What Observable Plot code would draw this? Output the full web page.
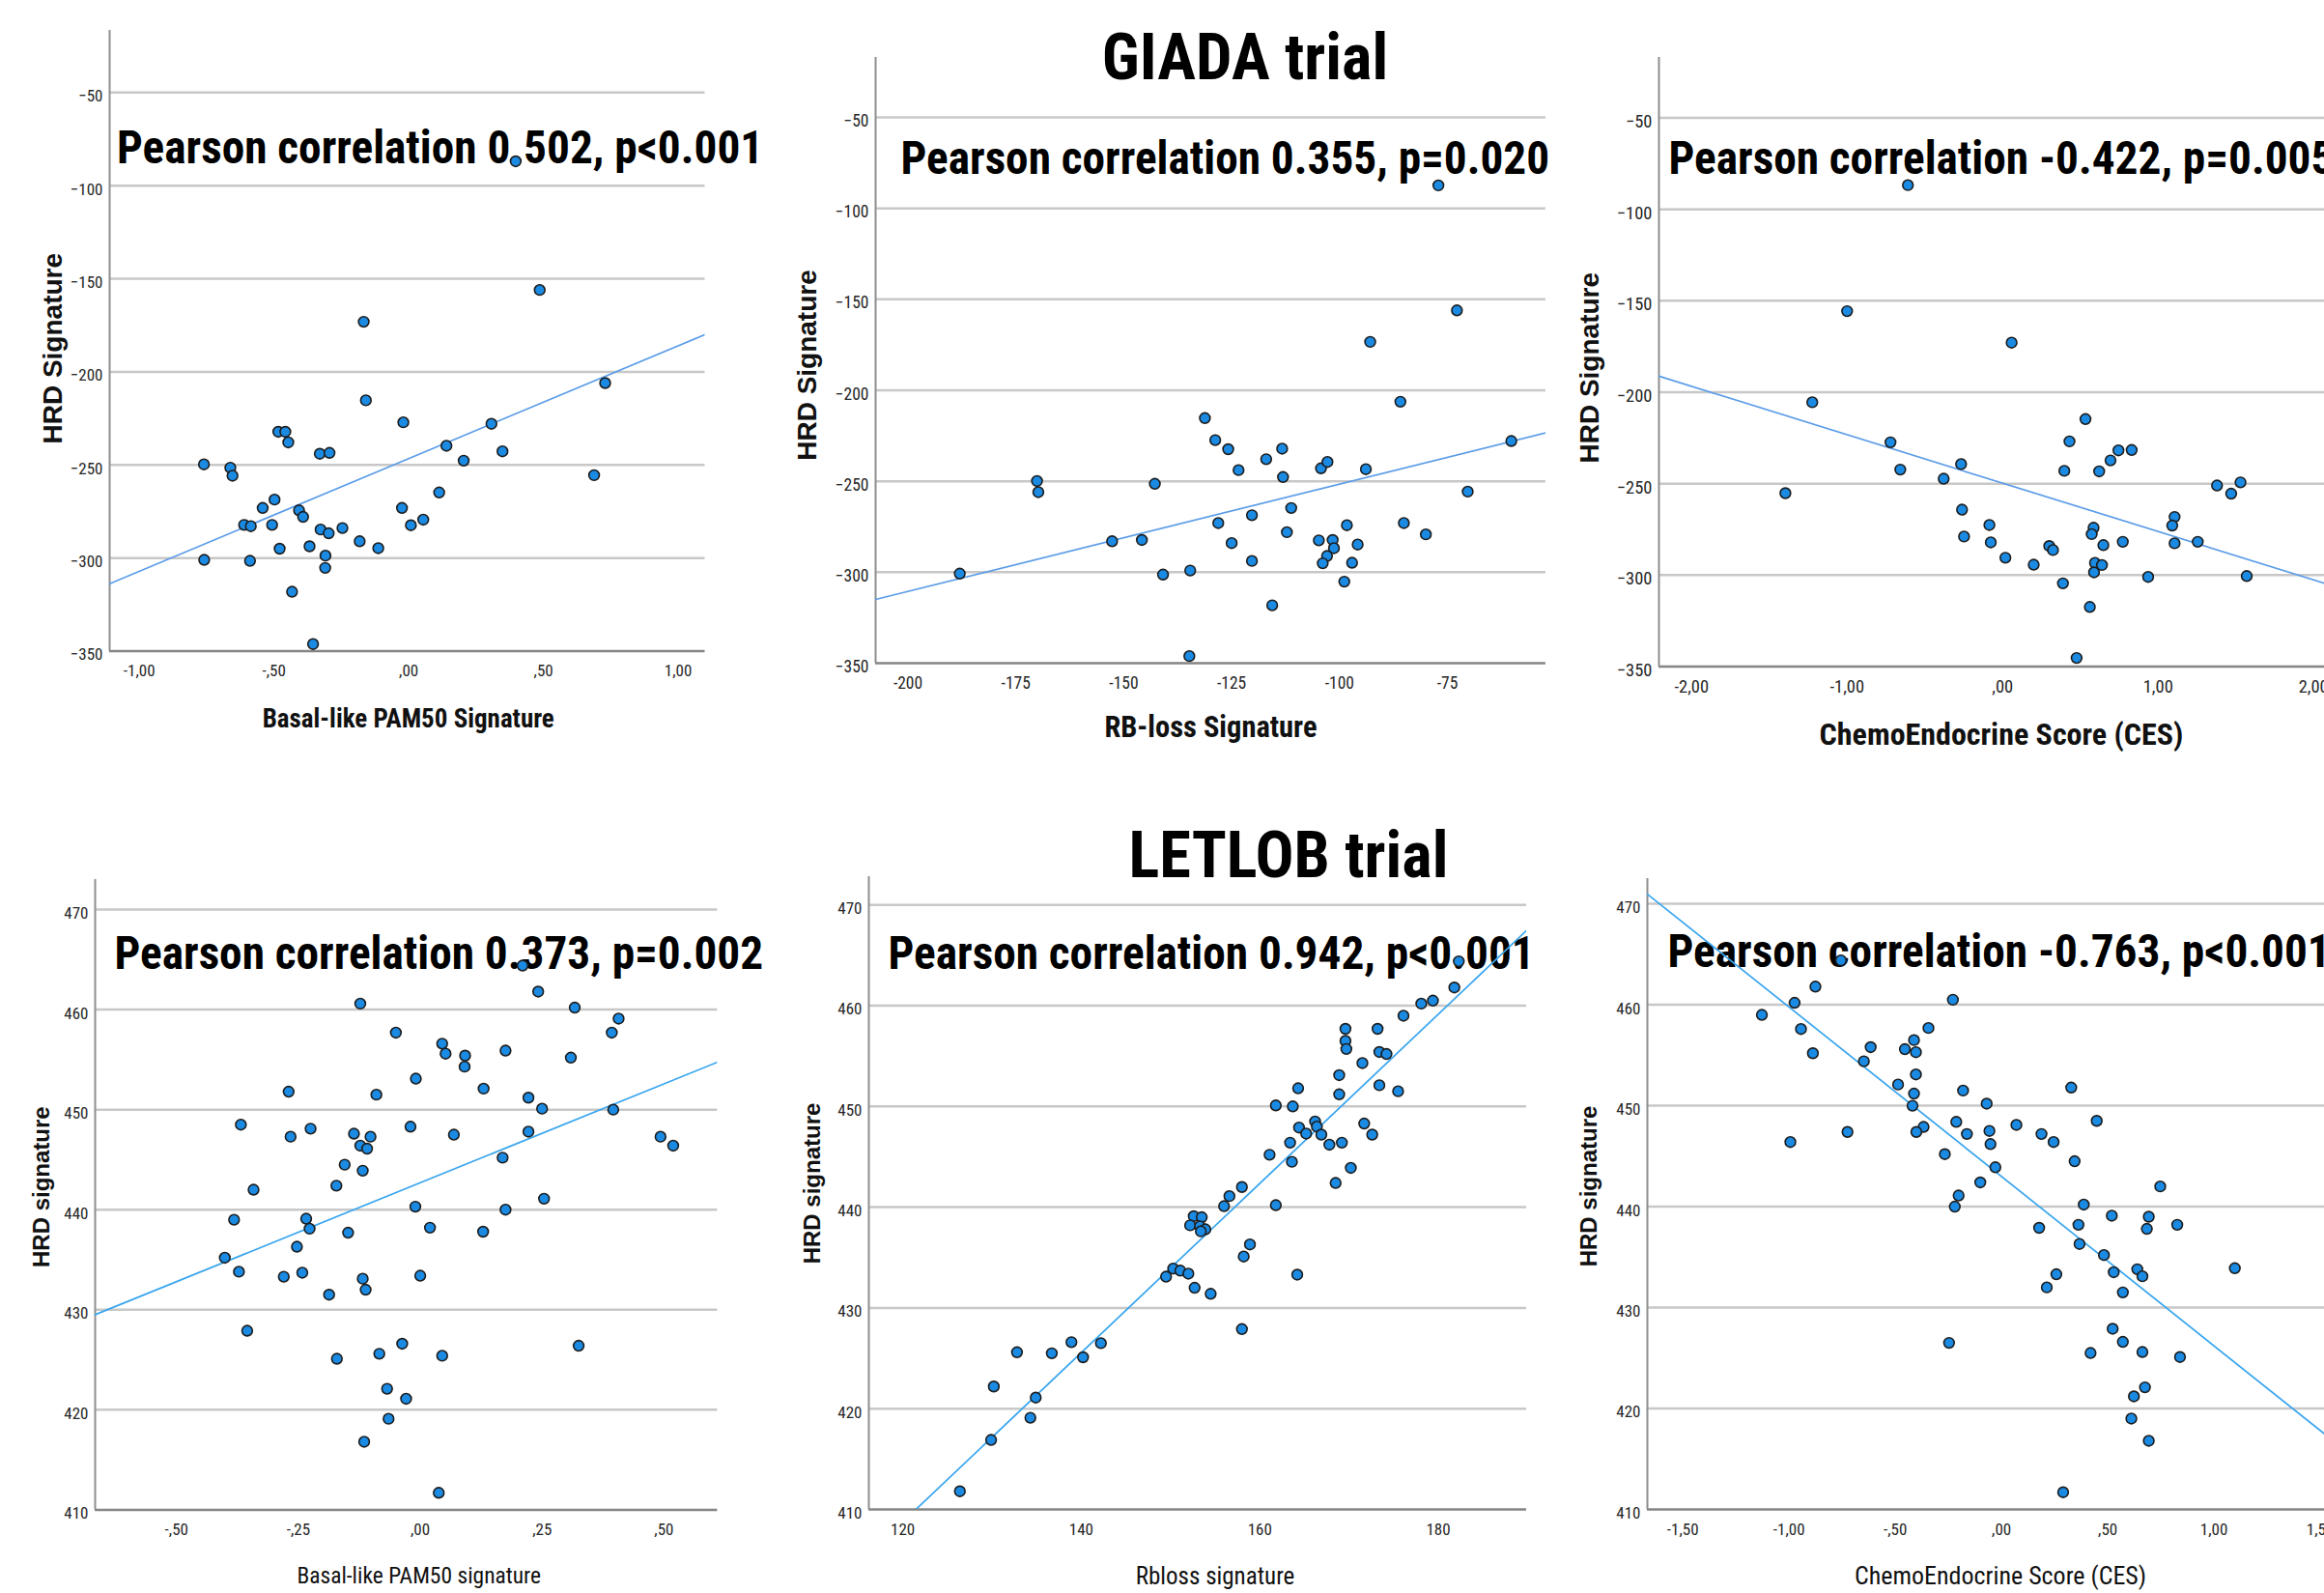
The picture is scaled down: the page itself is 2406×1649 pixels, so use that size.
<!DOCTYPE html>
<html><head><meta charset="utf-8">
<script src="https://cdn.jsdelivr.net/npm/d3@7"></script>
<script src="https://cdn.jsdelivr.net/npm/@observablehq/plot@0.6"></script>
<style>
html,body{margin:0;padding:0;background:#fff;}
#page{position:relative;width:2406px;height:1649px;overflow:hidden;background:#fff;}
#page svg{position:absolute;max-width:none;overflow:visible;}
</style></head>
<body><div id="page"></div>
<script>
// ---------- DATA ----------
// GIADA trial (HRD signature vs Basal-like PAM50 signature)
const giadaBasalX = [0.397,0.486,-0.167,-0.159,-0.020,0.307,0.729,0.140,0.348,0.204,0.688,0.113,-0.025,0.008,0.054,-0.760,-0.662,-0.654,-0.484,-0.458,-0.447,-0.330,-0.294,-0.498,-0.542,-0.407,-0.392,-0.611,-0.586,-0.507,-0.327,-0.297,-0.246,-0.182,-0.113,-0.479,-0.368,-0.309,-0.310,-0.759,-0.589,-0.433,-0.355];
const giadaBasalY = [-86.9,-156.0,-173.1,-215.3,-227.1,-227.9,-206.0,-239.7,-242.7,-247.7,-255.5,-264.8,-273.1,-282.4,-279.4,-249.7,-251.5,-255.8,-232.2,-232.2,-237.9,-244.0,-243.5,-268.6,-273.1,-274.4,-277.9,-282.2,-282.9,-282.2,-284.7,-286.7,-283.9,-291.0,-294.7,-295.0,-293.7,-298.7,-305.3,-301.0,-301.5,-318.1,-346.2];
// GIADA trial (HRD signature vs RB-loss signature)
const giadaRbX = [-77.1,-72.8,-92.9,-85.9,-131.2,-128.8,-125.8,-113.3,-117.0,-123.4,-104.3,-102.8,-93.9,-60.2,-113.1,-170.1,-169.8,-142.8,-70.3,-111.2,-120.3,-128.1,-85.1,-98.3,-112.2,-80.0,-152.7,-145.8,-125.0,-104.8,-101.6,-101.3,-95.8,-102.9,-120.3,-103.9,-97.1,-188.0,-140.9,-134.6,-98.9,-115.6,-134.8];
const giadaRbY = [-87.4,-156.1,-173.4,-206.3,-215.3,-227.4,-232.4,-232.1,-237.9,-243.9,-242.9,-239.4,-243.4,-227.9,-247.7,-249.9,-256.0,-251.4,-255.7,-264.7,-268.7,-273.0,-273.0,-274.2,-278.0,-279.2,-283.0,-282.3,-284.0,-282.5,-282.3,-286.8,-284.8,-291.1,-293.8,-295.1,-294.8,-300.8,-301.3,-299.1,-305.2,-318.2,-346.1];
// GIADA trial (HRD signature vs ChemoEndocrine Score)
const giadaCesX = [-0.609,-1.000,0.058,-1.224,0.533,-0.721,0.430,0.745,0.830,0.694,-0.267,-0.658,0.397,0.621,-0.379,-1.397,1.379,1.470,1.530,-0.261,1.106,1.091,-0.085,0.585,0.573,-0.248,-0.076,0.773,0.648,1.106,1.255,0.300,0.324,0.018,0.594,0.639,0.200,0.588,0.936,1.570,0.388,0.561,0.476];
const giadaCesY = [-86.8,-155.7,-172.9,-205.5,-214.7,-227.4,-226.9,-231.8,-231.6,-237.3,-239.3,-242.3,-243.0,-243.3,-247.3,-255.2,-251.0,-255.5,-249.3,-264.2,-268.2,-272.9,-272.6,-274.1,-277.6,-278.9,-282.1,-281.8,-283.6,-282.6,-281.8,-284.1,-286.3,-290.5,-293.3,-294.5,-294.3,-298.5,-301.0,-300.5,-304.5,-317.4,-345.3];
// LETLOB trial (HRD signature vs Basal-like PAM50 signature)
const letlobBasalX = [0.210,0.242,-0.123,0.317,0.407,0.393,-0.050,0.045,0.052,0.175,0.092,0.091,0.309,-0.009,0.130,-0.270,-0.090,0.222,0.250,0.396,-0.368,-0.020,-0.225,0.222,-0.266,-0.136,-0.102,0.069,-0.123,-0.109,0.493,0.519,0.169,-0.155,-0.118,-0.172,-0.342,0.254,-0.010,0.175,-0.382,-0.234,-0.227,0.020,-0.148,0.129,-0.253,-0.401,-0.372,-0.242,-0.280,0.000,-0.118,-0.112,-0.187,-0.355,-0.037,0.325,-0.084,0.045,-0.171,-0.068,-0.029,-0.065,-0.115,0.038];
const letlobBasalY = [464.4,461.8,460.6,460.2,459.1,457.7,457.7,456.6,455.6,455.9,455.4,454.3,455.2,453.1,452.1,451.8,451.5,451.2,450.1,450.0,448.5,448.3,448.1,447.8,447.3,447.6,447.3,447.5,446.4,446.1,447.3,446.4,445.2,444.5,443.9,442.4,442.0,441.1,440.3,440.0,439.0,439.1,438.1,438.2,437.7,437.8,436.3,435.2,433.8,433.7,433.3,433.4,433.1,432.0,431.5,427.9,426.6,426.4,425.6,425.4,425.1,422.1,421.1,419.1,416.8,411.7];
// LETLOB trial (HRD signature vs Rbloss signature)
const letlobRbX = [182.3,181.8,178.1,179.4,176.1,169.6,173.2,169.6,169.7,173.4,174.2,171.5,168.9,173.4,164.3,175.5,168.9,161.8,163.7,166.2,166.4,164.4,171.7,165.2,166.9,172.6,163.4,167.8,169.2,161.1,163.6,170.2,158.0,168.5,156.6,156.0,161.8,152.6,153.5,152.2,153.3,153.9,153.4,158.9,158.2,149.5,150.3,151.1,152.0,164.2,152.7,154.5,158.0,132.8,136.7,138.9,140.2,142.2,130.2,134.9,134.3,129.9,126.4];
const letlobRbY = [464.4,461.8,460.2,460.5,459.0,457.7,457.7,456.5,455.7,455.4,455.2,454.3,453.1,452.1,451.8,451.5,451.2,450.1,450.0,448.5,448.0,447.9,448.3,447.3,447.2,447.2,446.4,446.2,446.4,445.2,444.5,443.9,442.0,442.4,441.1,440.1,440.2,439.1,439.0,438.2,438.1,437.8,437.6,436.3,435.1,433.1,433.9,433.7,433.4,433.3,432.0,431.4,427.9,425.6,425.5,426.6,425.1,426.5,422.2,421.1,419.1,416.9,411.8];
// LETLOB trial (HRD signature vs ChemoEndocrine Score)
const letlobCesX = [-0.756,-0.876,-0.229,-0.974,-1.128,-0.944,-0.344,-0.412,-0.616,-0.455,-0.403,-0.888,-0.648,-0.403,-0.487,0.328,-0.181,-0.412,-0.070,-0.419,0.448,-0.213,0.070,-0.367,-0.057,-0.401,-0.725,-0.163,0.188,-0.994,-0.052,0.245,-0.267,0.344,-0.029,-0.100,0.747,-0.202,0.387,-0.220,0.519,0.693,0.362,0.827,0.177,0.684,0.367,0.482,0.639,1.098,0.528,0.258,0.663,0.213,0.571,0.523,-0.247,0.571,0.419,0.663,0.840,0.675,0.623,0.611,0.693,0.290];
const letlobCesY = [464.4,461.8,460.5,460.2,459.0,457.6,457.7,456.5,455.8,455.6,455.3,455.2,454.4,453.1,452.1,451.8,451.5,451.2,450.2,450.0,448.5,448.4,448.1,447.9,447.5,447.4,447.4,447.2,447.2,446.4,446.2,446.4,445.2,444.5,443.9,442.4,442.0,441.1,440.2,440.0,439.1,439.0,438.2,438.2,437.9,437.8,436.3,435.2,433.8,433.9,433.5,433.3,433.1,432.0,431.5,427.9,426.5,426.6,425.5,425.6,425.1,422.1,421.2,419.0,416.8,411.7];

// tick values
const ticksHrdGiada = [-350,-300,-250,-200,-150,-100,-50];
const ticksHrdLetlob = [410,420,430,440,450,460,470];
const ticksBasalGiada = [-1,-0.5,0,0.5,1];
const ticksRbGiada = [-200,-175,-150,-125,-100,-75];
const ticksCesGiada = [-2,-1,0,1,2];
const ticksBasalLetlob = [-0.5,-0.25,0,0.25,0.5];
const ticksRbLetlob = [120,140,160,180];
const ticksCesLetlob = [-1.5,-1,-0.5,0,0.5,1,1.5];

// texts
const titles = ["GIADA trial", "LETLOB trial"];
const pearsonLabels = [
  "Pearson correlation 0.502, p<0.001",
  "Pearson correlation 0.355, p=0.020",
  "Pearson correlation -0.422, p=0.005",
  "Pearson correlation 0.373, p=0.002",
  "Pearson correlation 0.942, p<0.001",
  "Pearson correlation -0.763, p<0.001"
];
const xLabels = ["Basal-like PAM50 Signature","RB-loss Signature","ChemoEndocrine Score (CES)",
                 "Basal-like PAM50 signature","Rbloss signature","ChemoEndocrine Score (CES)"];
const yLabels = ["HRD Signature","HRD Signature","HRD Signature","HRD signature","HRD signature","HRD signature"];

// ---------- FORMATTING / LAYOUT ----------
const spss = d => { const s = Math.abs(d).toFixed(2).replace(".", ","); return (d < 0 ? "-" : "") + (Math.abs(d) < 1 ? s.slice(1) : s); };
const intFmt = d => String(d);
const NARROW = "'Liberation Sans Narrow','Arial Narrow','Roboto Condensed',sans-serif";
const WIDE = "'Liberation Sans',Arial,sans-serif";

const panels = [
  {xs:giadaBasalX, ys:giadaBasalY, xt:ticksBasalGiada, yt:ticksHrdGiada, fmt:spss, xd:[-1.11,1.10], yd:[-350,-16.6], f:{l:112.5,r:729,t:30.5,b:673}, pdx:7.5, pdy:137.5, lx:[1,70], lfs:27, ly:[-58,8], yfs:28, tfs:17, top:true},
  {xs:giadaRbX, ys:giadaRbY, xt:ticksRbGiada, yt:ticksHrdGiada, fmt:intFmt, xd:[-207.5,-52.2], yd:[-350,-17.1], f:{l:905.6,r:1599.5,t:59,b:686}, pdx:26, pdy:121, lx:[0,67], lfs:30.5, ly:[-70,5], yfs:28, tfs:17.5, top:true},
  {xs:giadaCesX, ys:giadaCesY, xt:ticksCesGiada, yt:ticksHrdGiada, fmt:spss, xd:[-2.21,2.07], yd:[-350,-17], f:{l:1717,r:2406,t:58.5,b:689}, pdx:10, pdy:120.5, lx:[10,71], lfs:32, ly:[-71,6], yfs:28, tfs:18.5, top:true},
  {xs:letlobBasalX, ys:letlobBasalY, xt:ticksBasalLetlob, yt:ticksHrdLetlob, fmt:spss, xd:[-0.667,0.610], yd:[410,473], f:{l:97.6,r:742,t:909.6,b:1562}, pdx:20, pdy:92.4, lx:[13,69], lfs:23.5, ly:[-55,-8], yfs:24, tfs:17, top:false},
  {xs:letlobRbX, ys:letlobRbY, xt:ticksRbLetlob, yt:ticksHrdLetlob, fmt:intFmt, xd:[116.2,189.9], yd:[410,472.8], f:{l:899,r:1580,t:907,b:1562}, pdx:20, pdy:95, lx:[18,69], lfs:25, ly:[-58,-10], yfs:24, tfs:17, top:false},
  {xs:letlobCesX, ys:letlobCesY, xt:ticksCesLetlob, yt:ticksHrdLetlob, fmt:spss, xd:[-1.667,1.52], yd:[410,472.5], f:{l:1705,r:2406,t:909,b:1562}, pdx:21, pdy:91, lx:[15,69], lfs:26, ly:[-60,-8], yfs:24, tfs:17, top:false}
];

const page = document.getElementById("page");
const M = {l:110, r:30, t:10, b:100};

panels.forEach((p, i) => {
  const data = p.xs.map((x, k) => ({x, y: p.ys[k]}));
  const mx = d3.mean(p.xs), my = d3.mean(p.ys);
  const slope = d3.sum(p.xs, (x, k) => (x - mx) * (p.ys[k] - my)) / d3.sum(p.xs, x => (x - mx) ** 2);
  const icpt = my - slope * mx;
  const fit = p.xd.map(x => ({x, y: icpt + slope * x}));
  const mr = p.f.r >= 2406 ? 0 : M.r;
  const width = p.f.r - p.f.l + M.l + mr;
  const height = p.f.b - p.f.t + M.t + M.b;
  const lineColor = p.top ? "#5c9de8" : "#3aa6ee";
  const chart = Plot.plot({
    width, height,
    marginLeft: M.l, marginRight: mr, marginTop: M.t, marginBottom: M.b,
    style: {fontFamily: NARROW, fontSize: p.tfs + "px", color: "#262626", background: "transparent", overflow: "visible"},
    x: {domain: p.xd, label: null},
    y: {domain: p.yd, label: null},
    marks: [
      Plot.gridY(p.yt.slice(1), {stroke: "#c8c8c8", strokeOpacity: 1, strokeWidth: 2.5}),
      Plot.ruleX([p.xd[0]], {stroke: "#8e8e8e", strokeWidth: 2}),
      Plot.ruleY([p.yd[0]], {stroke: "#858585", strokeWidth: 2.5}),
      Plot.axisX({ticks: p.xt, tickFormat: p.fmt, tickSize: 0, tickPadding: 14, label: null, fontSize: p.tfs}),
      Plot.axisY({ticks: p.yt, tickSize: 0, tickPadding: 7, label: null, dy: 4, fontSize: p.tfs}),
      Plot.text([pearsonLabels[i]], {frameAnchor: "top-left", textAnchor: "start", lineAnchor: "bottom", dx: p.pdx, dy: p.pdy, fontSize: 47.3, fontWeight: "bold", fill: "#000", fontFamily: NARROW}),
      Plot.line(fit, {x: "x", y: "y", stroke: lineColor, strokeWidth: 1.7, clip: true}),
      Plot.dot(data, {x: "x", y: "y", r: 5.4, fill: "#1a8ae3", stroke: "#1c1c1c", strokeWidth: 1.6}),
      Plot.text([xLabels[i]], {frameAnchor: "bottom", textAnchor: "middle", lineAnchor: "middle", dx: p.lx[0], dy: p.lx[1], fontSize: p.lfs, fontWeight: p.top ? "bold" : "normal", fill: "#111", fontFamily: NARROW}),
      Plot.text([yLabels[i]], {frameAnchor: "left", textAnchor: "middle", lineAnchor: "middle", rotate: -90, dx: p.ly[0], dy: p.ly[1], fontSize: p.yfs, fontWeight: "bold", fill: "#111", fontFamily: WIDE})
    ]
  });
  chart.style.left = (p.f.l - M.l) + "px";
  chart.style.top = (p.f.t - M.t) + "px";
  page.appendChild(chart);
});

// titles overlay
const ov = d3.select(page).append("svg").attr("width", 2406).attr("height", 1649)
  .style("left", "0px").style("top", "0px").style("pointer-events", "none");
const titlePos = [[1289, 82], [1334, 908]];
ov.selectAll("text").data(titles).join("text")
  .attr("x", (d, k) => titlePos[k][0]).attr("y", (d, k) => titlePos[k][1])
  .attr("text-anchor", "middle").attr("font-family", NARROW).attr("font-weight", "bold")
  .attr("font-size", 66.5).attr("fill", "#000").text(d => d);
</script>
</body></html>
